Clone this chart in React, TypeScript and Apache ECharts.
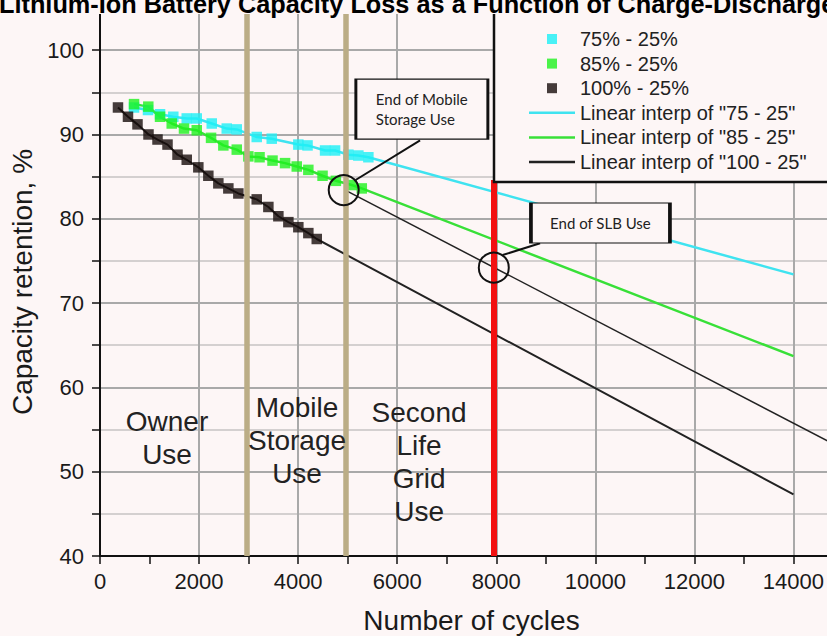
import React, { useEffect, useRef } from "react";
import * as echarts from "echarts";

// ---- data ----
const cyanCycles = [687, 969, 1212, 1480, 1751, 1953, 2256, 2559, 2761, 3164, 3467, 4004, 4190, 4544, 4746, 5014, 5216, 5418];
const cyanValues = [93.2, 92.9, 92.4, 92.1, 91.9, 91.9, 91.3, 90.7, 90.6, 89.7, 89.5, 88.8, 88.7, 88.1, 88.1, 87.6, 87.5, 87.3];
const greenCycles = [687, 975, 1212, 1448, 1696, 1953, 2242, 2490, 2761, 2995, 3221, 3483, 3736, 3972, 4206, 4493, 4762, 5083, 5285];
const greenValues = [93.6, 93.3, 92.1, 91.3, 90.7, 90.5, 89.6, 88.7, 88.2, 87.4, 87.3, 86.9, 86.6, 86.2, 85.8, 85.1, 84.5, 84.0, 83.6];
const blackCycles = [363, 565, 757, 979, 1161, 1363, 1565, 1751, 1985, 2187, 2389, 2591, 2793, 3164, 3399, 3601, 3803, 4004, 4206, 4376];
const blackValues = [93.2, 92.1, 91.2, 90.0, 89.4, 88.8, 87.6, 87.0, 86.1, 85.1, 84.2, 83.6, 83.0, 82.3, 81.4, 80.3, 79.6, 79.0, 78.3, 77.6];
// extrapolated end points of the linear interpolation lines
const fitEndCycle = 14000;
const cyanFitEnd = 73.4;
const greenFitEnd = 63.7;
const blackFitEnd = 47.3;
// projection line through "End of Mobile Storage Use"
const projCycles = [4950, 15000];
const projValues = [83.4, 52.7];
// phase boundaries (as drawn in the picture)
const phaseBounds = [2960, 4960];
const slbEnd = 7950;
const slbLineRange = [40, 84.6];
const xTicks = { min: 0, max: 15000, step: 1000 };
const yTicks = { min: 40, max: 105, step: 5 };

const BG = "#fdf6f6";
const FONT = "Liberation Sans";

const zip = (xs: number[], ys: number[]) => xs.map((x, i) => [x, ys[i]]);

export default function App() {
  const ref = useRef<HTMLDivElement>(null);
  useEffect(() => {
    if (!ref.current) return;
    const chart = echarts.init(ref.current, null, { renderer: "svg" });
    const sq = "path://M0,0h10v10h-10z";
    const ln = "path://M0,0h46v2.5h-46z";
    const option: any = {
      animation: false,
      backgroundColor: BG,
      textStyle: { fontFamily: FONT },
      grid: { left: 100, right: -16, top: 8, bottom: 80, outerBoundsMode: "none", containLabel: false },
      xAxis: {
        type: "value",
        min: xTicks.min,
        max: xTicks.max,
        interval: xTicks.step,
        name: "Number of cycles",
        nameLocation: "middle",
        nameGap: 50,
        nameTextStyle: { fontSize: 28, color: "#1a1a1a", fontFamily: FONT },
        axisLine: { show: true, onZero: false, lineStyle: { color: "#111", width: 2 } },
        axisTick: { show: true, length: 8, lineStyle: { color: "#111", width: 1.5 } },
        axisLabel: {
          fontSize: 22,
          color: "#1a1a1a",
          margin: 14,
          formatter: (v: number) => (v % 2000 === 0 ? String(v) : ""),
        },
        splitLine: { show: true, lineStyle: { color: ["#a9a9a9", "rgba(0,0,0,0)"], width: 2 } },
      },
      yAxis: {
        type: "value",
        min: yTicks.min,
        max: yTicks.max,
        interval: yTicks.step,
        name: "Capacity retention, %",
        nameLocation: "middle",
        nameGap: 45,
        nameTextStyle: { fontSize: 28, color: "#1a1a1a", fontFamily: FONT },
        axisLine: { show: true, onZero: false, lineStyle: { color: "#111", width: 2 } },
        axisTick: { show: true, length: 8, lineStyle: { color: "#111", width: 1.5 } },
        axisLabel: {
          fontSize: 22,
          color: "#1a1a1a",
          margin: 16,
          formatter: (v: number) => (v % 10 === 0 && v <= 100 ? String(v) : ""),
        },
        splitLine: { show: true, lineStyle: { color: ["#a9a9a9", "#d4d0d0"], width: 2 } },
      },
      legend: {
        orient: "vertical",
        left: 494,
        top: 12,
        padding: [17, 60, 10, 35],
        itemGap: 4.6,
        itemWidth: 46,
        itemHeight: 10,
        borderColor: "#111",
        borderWidth: 2.5,
        backgroundColor: BG,
        selectedMode: false,
        z: 20,
        textStyle: { fontSize: 20, color: "#222", lineHeight: 20, fontFamily: FONT },
        data: [
          { name: "75% - 25%", icon: sq },
          { name: "85% - 25%", icon: sq },
          { name: "100% - 25%", icon: sq },
          { name: 'Linear interp of "75 - 25"', icon: ln },
          { name: 'Linear interp of "85 - 25"', icon: ln },
          { name: 'Linear interp of "100 - 25"', icon: ln },
        ],
      },
      graphic: [
        { type: "rect", left: 0, top: 0, shape: { width: 827, height: 14 }, style: { fill: BG }, z: 100 },
        {
          type: "text",
          x: -1,
          y: 4,
          z: 101,
          style: {
            text: "Lithium-Ion Battery Capacity Loss as a Function of Charge-Discharge",
            font: `bold 25.3px "${FONT}"`,
            fill: "#000",
            textVerticalAlign: "middle",
          },
        },
      ],
      series: [
        {
          name: "phases",
          type: "line",
          data: [],
          z: 1,
          markLine: {
            silent: true,
            symbol: ["none", "none"],
            label: { show: false },
            lineStyle: { color: "#bbad86", width: 5.5, type: "solid" },
            data: phaseBounds.map((x) => ({ xAxis: x })),
          },
        },
        {
          name: 'Linear interp of "75 - 25"',
          type: "line",
          data: [...zip(cyanCycles, cyanValues), [fitEndCycle, cyanFitEnd]],
          symbol: "none",
          lineStyle: { color: "#3fe3f0", width: 2.5 },
          itemStyle: { color: "#3fe3f0" },
          z: 2,
        },
        {
          name: 'Linear interp of "85 - 25"',
          type: "line",
          data: [...zip(greenCycles, greenValues), [fitEndCycle, greenFitEnd]],
          symbol: "none",
          lineStyle: { color: "#38e038", width: 2.5 },
          itemStyle: { color: "#38e038" },
          z: 2,
        },
        {
          name: 'Linear interp of "100 - 25"',
          type: "line",
          data: [...zip(blackCycles, blackValues), [fitEndCycle, blackFitEnd]],
          symbol: "none",
          lineStyle: { color: "#222", width: 2 },
          itemStyle: { color: "#222" },
          z: 2,
        },
        {
          name: "projection",
          type: "line",
          data: zip(projCycles, projValues),
          symbol: "none",
          lineStyle: { color: "#222", width: 1.5 },
          z: 2,
        },
        {
          name: "75% - 25%",
          type: "scatter",
          data: zip(cyanCycles, cyanValues),
          symbol: "rect",
          symbolSize: 10.5,
          itemStyle: { color: "#1cf0f6" },
          z: 3,
        },
        {
          name: "85% - 25%",
          type: "scatter",
          data: zip(greenCycles, greenValues),
          symbol: "rect",
          symbolSize: 10.5,
          itemStyle: { color: "#1ef21e" },
          z: 4,
        },
        {
          name: "100% - 25%",
          type: "scatter",
          data: zip(blackCycles, blackValues),
          symbol: "rect",
          symbolSize: 10.5,
          itemStyle: { color: "#170d0b" },
          z: 5,
        },
        {
          name: "slb",
          type: "line",
          data: [],
          z: 6,
          markLine: {
            silent: true,
            symbol: ["none", "none"],
            label: { show: false },
            lineStyle: { color: "#f21010", width: 6, type: "solid" },
            data: [[{ coord: [slbEnd, slbLineRange[0]] }, { coord: [slbEnd, slbLineRange[1]] }]],
          },
        },
        {
          name: "annotations",
          type: "scatter",
          data: [],
          z: 10,
          silent: true,
          markLine: {
            silent: true,
            symbol: ["none", "none"],
            label: { show: false },
            lineStyle: { color: "#111", width: 2, type: "solid" },
            data: [
              [{ coord: [6462, 89.3] }, { coord: [5160, 84.6] }],
              [{ coord: [8885, 77.1] }, { coord: [8129, 75.7] }],
            ],
          },
          markPoint: {
            silent: true,
            data: [
              {
                coord: [4920, 83.4],
                symbol: "circle",
                symbolSize: 30,
                itemStyle: { color: "rgba(0,0,0,0)", borderColor: "#111", borderWidth: 2 },
                label: { show: false },
              },
              {
                coord: [7950, 74.2],
                symbol: "circle",
                symbolSize: 30,
                itemStyle: { color: "rgba(0,0,0,0)", borderColor: "#111", borderWidth: 2 },
                label: { show: false },
              },
              {
                coord: [6498, 93.0],
                symbol: "rect",
                symbolSize: [132, 60],
                itemStyle: { color: BG, borderColor: "#111", borderWidth: 2 },
                label: {
                  show: true,
                  position: "inside",
                  align: "left",
                  offset: [-46, 0],
                  formatter: "End of Mobile\nStorage Use",
                  fontFamily: "Lato",
                  fontSize: 15,
                  lineHeight: 20,
                  color: "#222",
                },
              },
              {
                coord: [10103, 79.5],
                symbol: "rect",
                symbolSize: [139, 40],
                itemStyle: { color: BG, borderColor: "#111", borderWidth: 2 },
                label: {
                  show: true,
                  position: "inside",
                  formatter: "End of SLB Use",
                  fontFamily: "Lato",
                  fontSize: 15,
                  color: "#222",
                },
              },
              ...[
                { c: [1353, 54.0], t: "Owner\nUse" },
                { c: [3978, 53.7], t: "Mobile\nStorage\nUse" },
                { c: [6442, 51.2], t: "Second\nLife\nGrid\nUse" },
              ].map((d) => ({
                coord: d.c,
                symbol: "rect",
                symbolSize: 1,
                itemStyle: { color: "rgba(0,0,0,0)" },
                label: {
                  show: true,
                  position: "inside",
                  formatter: d.t,
                  fontFamily: FONT,
                  fontSize: 28,
                  lineHeight: 33,
                  color: "#222",
                },
              })),
            ],
          },
        },
      ],
    };
    chart.setOption(option);
    return () => chart.dispose();
  }, []);
  return (
    <div
      ref={ref}
      style={{ position: "fixed", left: 0, top: 0, width: 827, height: 636 }}
    />
  );
}
